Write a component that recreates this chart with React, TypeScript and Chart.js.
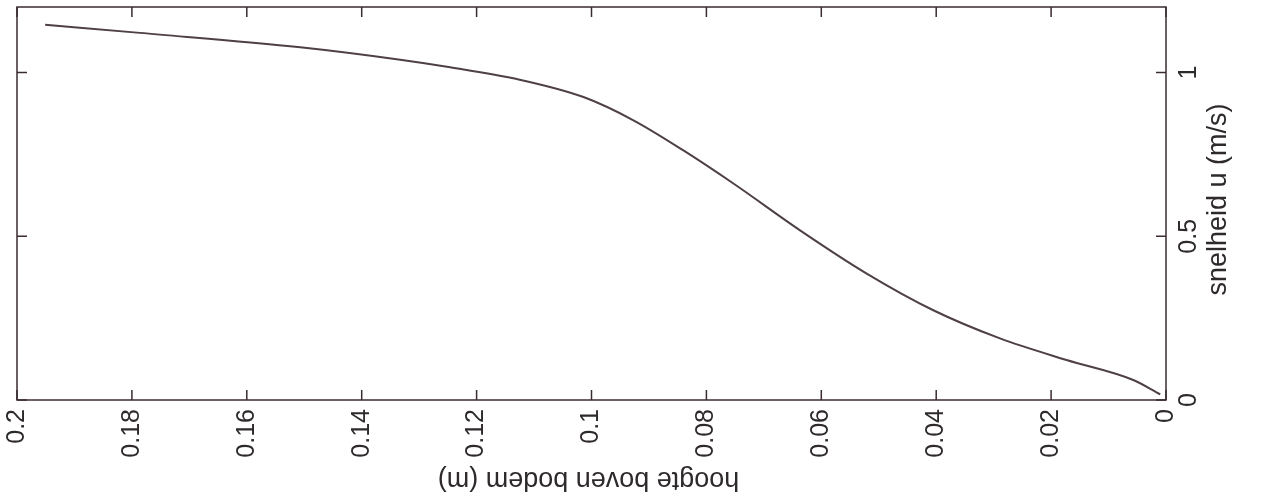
import React, { useEffect, useRef } from "react";
import { Chart, registerables } from "chart.js";

Chart.register(...registerables);

// height above bed (m)
const heights = [0.1951, 0.1786, 0.1507, 0.1333, 0.1246, 0.113, 0.1014, 0.0927, 0.084, 0.0753, 0.0637, 0.0521, 0.0405, 0.0289, 0.0173, 0.0057, 0.001];
// velocity u (m/s)
const velocities = [1.146, 1.121, 1.077, 1.039, 1.016, 0.98, 0.925, 0.854, 0.762, 0.661, 0.518, 0.386, 0.274, 0.188, 0.122, 0.061, 0.017];
const yTickValues = [0, 0.5, 1];
const yTickLabels = ["0", "0.5", "1"];
const xTitle = "hoogte boven bodem (m)";
const yTitle = "snelheid u (m/s)";

const FONT = "'Liberation Sans', Arial, Helvetica, sans-serif";
const AXIS_COLOR = "#3a2c30";
const TEXT_COLOR = "#2e2a2b";

export default function App() {
  const ref = useRef<HTMLCanvasElement | null>(null);

  useEffect(() => {
    if (!ref.current) return;
    const points = heights.map((h, i) => ({ x: h, y: velocities[i] }));

    const decor = {
      id: "decor",
      afterDraw(chart: any) {
        const ctx = chart.ctx as CanvasRenderingContext2D;
        const a = chart.chartArea;
        const xs = chart.scales.x;
        const ys = chart.scales.y;
        ctx.save();
        ctx.strokeStyle = AXIS_COLOR;
        ctx.lineWidth = 1.5;
        ctx.strokeRect(a.left, a.top, a.right - a.left, a.bottom - a.top);
        const tl = 10;
        ctx.beginPath();
        xs.ticks.forEach((t: any) => {
          const px = xs.getPixelForValue(t.value);
          ctx.moveTo(px, a.bottom);
          ctx.lineTo(px, a.bottom - tl);
          ctx.moveTo(px, a.top);
          ctx.lineTo(px, a.top + tl);
        });
        yTickValues.forEach((v) => {
          const py = ys.getPixelForValue(v);
          ctx.moveTo(a.right, py);
          ctx.lineTo(a.right - tl, py);
          ctx.moveTo(a.left, py);
          ctx.lineTo(a.left + tl, py);
        });
        ctx.stroke();

        ctx.fillStyle = TEXT_COLOR;
        ctx.font = `25px ${FONT}`;
        ctx.textAlign = "center";
        ctx.textBaseline = "middle";
        yTickValues.forEach((v, i) => {
          const py = ys.getPixelForValue(v);
          ctx.save();
          ctx.translate(a.right + 23, py);
          ctx.rotate(-Math.PI / 2);
          ctx.fillText(yTickLabels[i], 0, 0);
          ctx.restore();
        });

        ctx.font = `27px ${FONT}`;
        ctx.save();
        ctx.translate(a.right + 53, (a.top + a.bottom) / 2 - 4);
        ctx.rotate(-Math.PI / 2);
        ctx.fillText(yTitle, 0, 0);
        ctx.restore();

        ctx.save();
        ctx.translate((a.left + a.right) / 2 - 3, 479);
        ctx.rotate(Math.PI);
        ctx.fillText(xTitle, 0, 0);
        ctx.restore();
        ctx.restore();
      },
    };

    const chart = new Chart(ref.current, {
      type: "line",
      data: {
        datasets: [
          {
            data: points,
            borderColor: "#4e4046",
            borderWidth: 2,
            pointRadius: 0,
            fill: false,
            cubicInterpolationMode: "monotone",
          },
        ],
      },
      options: {
        animation: false,
        responsive: false,
        maintainAspectRatio: false,
        layout: { padding: { left: 17, top: 7, right: 0, bottom: 0 } },
        plugins: { legend: { display: false }, tooltip: { enabled: false } },
        scales: {
          x: {
            type: "linear",
            reverse: true,
            min: 0,
            max: 0.2,
            grid: { display: false, drawTicks: false },
            border: { display: false },
            afterFit: (s: any) => {
              s.height = 99;
            },
            ticks: {
              stepSize: 0.02,
              minRotation: 90,
              maxRotation: 90,
              padding: 9,
              color: TEXT_COLOR,
              font: { family: FONT, size: 25 },
              callback: (v: any) => String(Number(Number(v).toFixed(2))),
            },
          },
          y: {
            type: "linear",
            position: "right",
            min: 0,
            max: 1.2,
            grid: { display: false, drawTicks: false },
            border: { display: false },
            afterFit: (s: any) => {
              s.width = 97;
            },
            ticks: { display: false, stepSize: 0.5 },
          },
        },
      },
      plugins: [decor],
    } as any);
    return () => chart.destroy();
  }, []);

  return (
    <div style={{ position: "fixed", left: 0, top: 0, width: 1263, height: 499, background: "#fff" }}>
      <canvas ref={ref} width={1263} height={499} style={{ display: "block" }} />
    </div>
  );
}
